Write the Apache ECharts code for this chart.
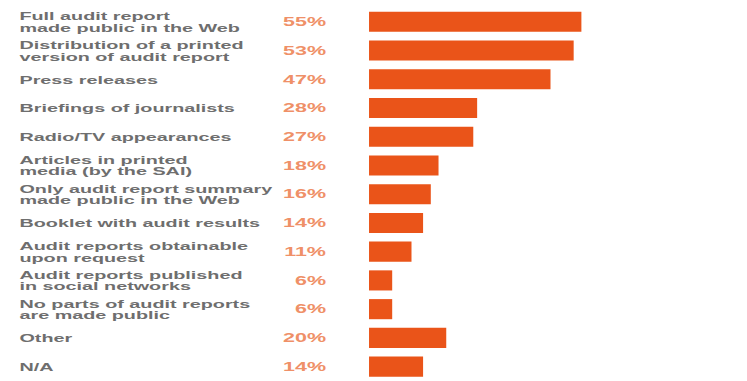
<!DOCTYPE html>
<html>
<head>
<meta charset="utf-8">
<script src="https://cdn.jsdelivr.net/npm/echarts@6/dist/echarts.min.js"></script>
<style>
  html, body { margin: 0; padding: 0; background: #ffffff; overflow: hidden; }
  /* the chart is laid out narrow and widened so the lettering reads broad */
  #chart {
    width: 434px;
    height: 381px;
    transform: scaleX(1.7212);
    transform-origin: 0 0;
  }
</style>
</head>
<body>
<div id="chart"></div>
<script>
const categories = [
  'Full audit report\nmade public in the Web',
  'Distribution of a printed\nversion of audit report',
  'Press releases',
  'Briefings of journalists',
  'Radio/TV appearances',
  'Articles in printed\nmedia (by the SAI)',
  'Only audit report summary\nmade public in the Web',
  'Booklet with audit results',
  'Audit reports obtainable\nupon request',
  'Audit reports published\nin social networks',
  'No parts of audit reports\nare made public',
  'Other',
  'N/A'
];
const shares = [55, 53, 47, 28, 27, 18, 16, 14, 11, 6, 6, 20, 14];

const barColor = '#EA5419';
const pctColor = '#EF9068';
const textColor = '#6E6E6E';

const chart = echarts.init(document.getElementById('chart'), null, { renderer: 'svg' });

chart.setOption({
  animation: false,
  grid: { left: 214.4, top: 7.4, width: 134.6, height: 381, containLabel: false },
  xAxis: {
    type: 'value',
    min: 0,
    max: 60,
    show: false
  },
  yAxis: {
    type: 'category',
    data: categories,
    inverse: true,
    axisLine: { show: false },
    axisTick: { show: false },
    splitLine: { show: false },
    axisLabel: {
      align: 'left',
      margin: 203.1,
      color: textColor,
      fontFamily: 'Liberation Sans, Arial, sans-serif',
      fontWeight: 'bold',
      fontSize: 11.5,
      lineHeight: 11.5
    }
  },
  series: [{
    type: 'bar',
    data: shares,
    barCategoryGap: '30%',
    itemStyle: { color: barColor },
    label: {
      show: true,
      position: 'left',
      distance: 25,
      formatter: '{c}%',
      color: pctColor,
      fontFamily: 'Liberation Sans, Arial, sans-serif',
      fontWeight: 'bold',
      fontSize: 12.5
    }
  }]
});
</script>
</body>
</html>
